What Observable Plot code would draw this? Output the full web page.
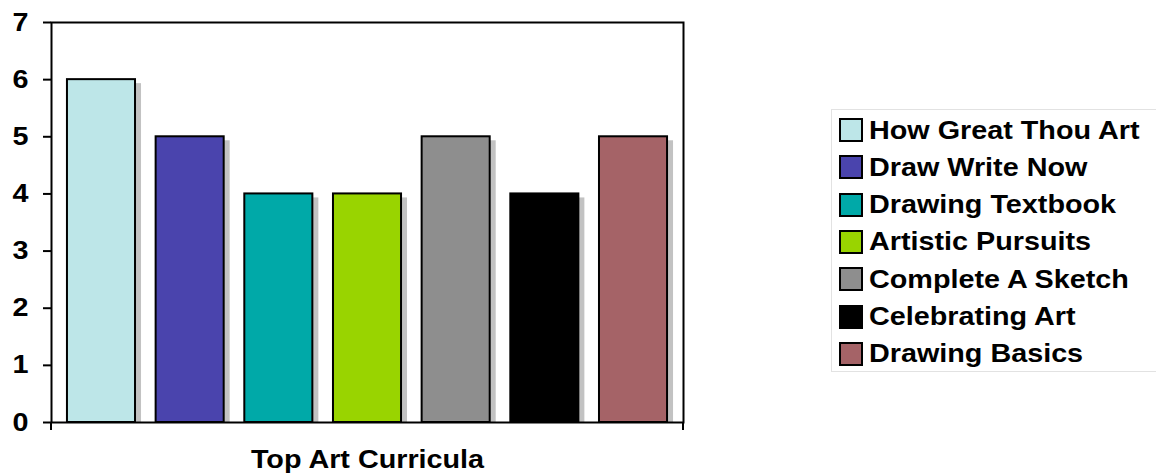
<!DOCTYPE html>
<html>
<head>
<meta charset="utf-8">
<script src="https://cdn.jsdelivr.net/npm/d3@7"></script>
<script src="https://cdn.jsdelivr.net/npm/@observablehq/plot@0.6"></script>
<style>
  html, body { margin: 0; padding: 0; background: #fff; }
  #wrap { position: relative; width: 1156px; height: 476px; font-family: "Liberation Sans", Arial, sans-serif; }
  #legend { position: absolute; left: 831px; top: 109px; width: 325px; height: 263px; border: 1px solid #e2e2e2; border-right: none; box-sizing: border-box; }
  .row { position: absolute; left: 7px; height: 24px; display: flex; align-items: center; }
  .sw { width: 20px; height: 20px; border: 2px solid #000; box-sizing: content-box; margin-right: 6px; flex: none; }
  .lab { font-weight: bold; font-size: 25px; color: #000; white-space: nowrap; transform: scaleX(1.15); transform-origin: left center; }
</style>
</head>
<body>
<div id="wrap"></div>
<script>
const categories = ["How Great Thou Art", "Draw Write Now", "Drawing Textbook", "Artistic Pursuits", "Complete A Sketch", "Celebrating Art", "Drawing Basics"];
const values = [6, 5, 4, 4, 5, 4, 5];
const colors = ["#bde6e8", "#4a44ad", "#00a9a8", "#99d400", "#8e8e8e", "#000000", "#a56367"];
const yTicks = [0, 1, 2, 3, 4, 5, 6, 7];
const axisTitle = "Top Art Curricula";

const data = categories.map((c, i) => ({category: c, value: values[i]}));

const endTicks = (index, scales, values, dim) => {
  const g = document.createElementNS("http://www.w3.org/2000/svg", "g");
  const y0 = dim.height - dim.marginBottom;
  for (const x of [dim.marginLeft, dim.width - dim.marginRight]) {
    const l = document.createElementNS("http://www.w3.org/2000/svg", "line");
    l.setAttribute("x1", x); l.setAttribute("x2", x);
    l.setAttribute("y1", y0); l.setAttribute("y2", y0 + 8);
    l.setAttribute("stroke", "#000"); l.setAttribute("stroke-width", 2);
    g.appendChild(l);
  }
  return g;
};

const chart = Plot.plot({
  width: 1156,
  height: 476,
  marginLeft: 51,
  marginRight: 473,
  marginTop: 22,
  marginBottom: 54,
  style: {fontFamily: "'Liberation Sans', Arial, sans-serif", background: "#fff"},
  x: {domain: categories, paddingInner: 0.2325, paddingOuter: 0.18, round: false, axis: null},
  y: {domain: [0, 7], axis: null},
  color: {domain: categories, range: colors},
  marks: [
    Plot.barY(data, {x: "category", y: "value", fill: "#c2c2c2", dx: 6, dy: 4, insetBottom: 4}),
    Plot.barY(data, {x: "category", y: "value", fill: "category", stroke: "#000", strokeWidth: 2}),
    Plot.frame({stroke: "#000", strokeWidth: 2}),
    Plot.axisY({ticks: yTicks, tickSize: 8, tickPadding: 15, tickFormat: d3.format("d"), stroke: "#000", strokeWidth: 2, fontSize: 25, fontWeight: "bold", fill: "#000", label: null}),
    endTicks,
    Plot.text([axisTitle], {text: d => d, frameAnchor: "bottom", dy: 45, fontSize: 25, fontWeight: "bold", fill: "#000"})
  ]
});

// horizontally stretch the text as in the reference
chart.querySelectorAll("text").forEach(t => {
  const tr = t.getAttribute("transform") || "";
  t.setAttribute("transform", (tr + " scale(1.15,1)").trim());
});

const wrap = document.getElementById("wrap");
wrap.appendChild(chart);

const legend = document.createElement("div");
legend.id = "legend";
categories.forEach((c, i) => {
  const row = document.createElement("div");
  row.className = "row";
  row.style.top = (8 + i * 37.3) + "px";
  const sw = document.createElement("div");
  sw.className = "sw";
  sw.style.background = colors[i];
  const lab = document.createElement("div");
  lab.className = "lab";
  lab.textContent = c;
  row.appendChild(sw); row.appendChild(lab);
  legend.appendChild(row);
});
wrap.appendChild(legend);
</script>
</body>
</html>
